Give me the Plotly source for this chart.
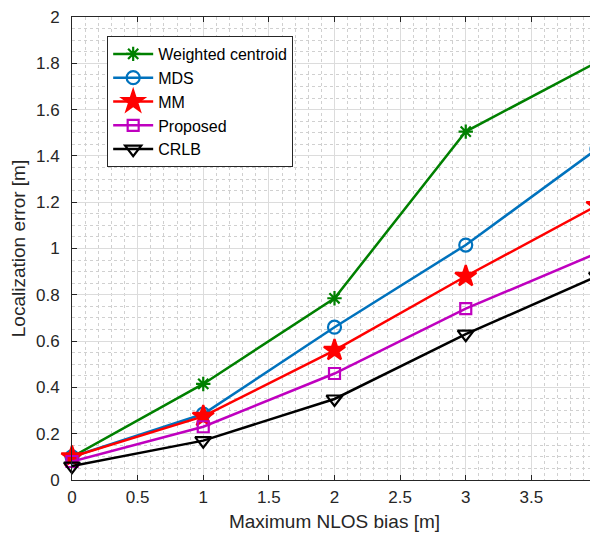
import plotly.graph_objects as go

x_bias = [0, 1, 2, 3, 4]
weighted_centroid = [0.10, 0.415, 0.785, 1.505, 1.805]
mds = [0.10, 0.285, 0.66, 1.015, 1.43]
mm = [0.10, 0.275, 0.56, 0.88, 1.185]
proposed = [0.08, 0.23, 0.46, 0.74, 0.98]
crlb = [0.06, 0.17, 0.35, 0.63, 0.88]

series = [
    ("Weighted centroid", weighted_centroid, "#008000", "asterisk-open", 12),
    ("MDS", mds, "#0072BD", "circle-open", 13),
    ("MM", mm, "#FF0000", "star", 16),
    ("Proposed", proposed, "#BF00BF", "square-open", 11),
    ("CRLB", crlb, "#000000", "triangle-down-open", 14),
]

fig = go.Figure()
for name, vals, color, sym, size in series:
    fig.add_trace(go.Scatter(
        x=x_bias, y=vals, name=name, mode="lines+markers",
        line=dict(color=color, width=2.5),
        marker=dict(symbol=sym, size=size, color=color,
                    line=dict(color=color, width=2.2)),
        cliponaxis=False,
    ))

font_fam = "Liberation Sans, Arial"
axis_common = dict(
    showline=True, linecolor="#262626", linewidth=1, mirror="ticks",
    ticks="inside", ticklen=5, tickcolor="#262626",
    showgrid=True, gridcolor="#DCDCDC", gridwidth=1,
    zeroline=False, automargin=False, ticklabeloverflow="allow",
    tickfont=dict(family=font_fam, size=17, color="#262626"),
)

fig.update_xaxes(
    range=[0, 4], dtick=0.5, tick0=0, ticklabelstandoff=2,
    title=dict(text="Maximum NLOS bias [m]", standoff=8,
               font=dict(family=font_fam, size=19, color="#262626")),
    minor=dict(dtick=0.1, showgrid=True, gridcolor="#D0D0D0", griddash="dot", gridwidth=1),
    **axis_common,
)
fig.update_yaxes(
    range=[0, 2], dtick=0.2, tick0=0, ticklabelstandoff=8,
    title=dict(text="Localization error [m]", standoff=6,
               font=dict(family=font_fam, size=19, color="#262626")),
    minor=dict(dtick=0.05, showgrid=True, gridcolor="#D0D0D0", griddash="dot", gridwidth=1),
    **axis_common,
)

fig.update_layout(
    width=590, height=531,
    margin=dict(l=64, r=1, t=9, b=59),
    plot_bgcolor="white", paper_bgcolor="white",
    showlegend=True,
    legend=dict(
        x=0.067, y=0.959, xanchor="left", yanchor="top",
        bgcolor="white", bordercolor="#262626", borderwidth=1,
        font=dict(family=font_fam, size=16, color="#000000"),
        tracegroupgap=0, itemwidth=40,
    ),
)

fig.write_html("out.html")
